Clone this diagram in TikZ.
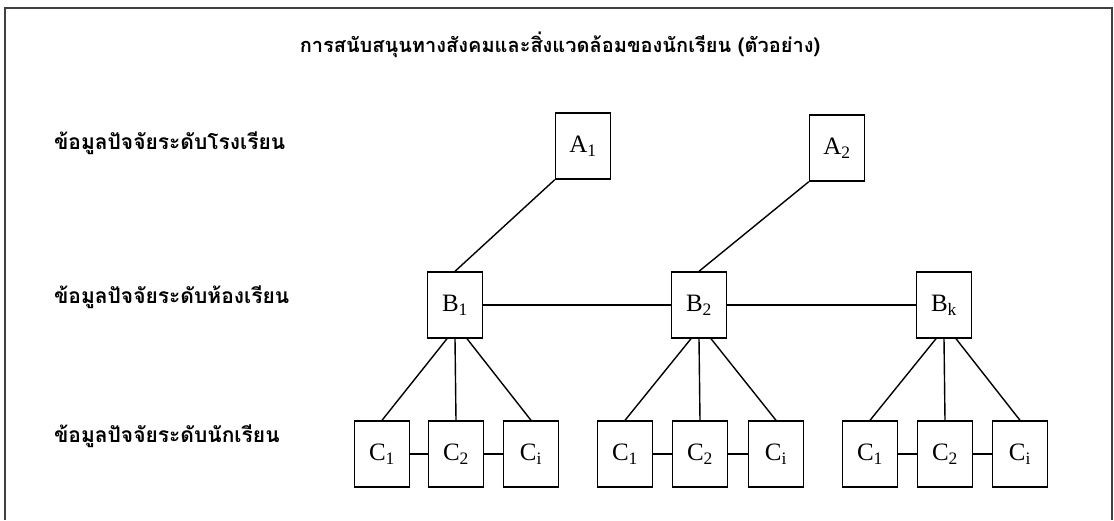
\documentclass[tikz,border=0pt]{standalone}
\usepackage{fontspec}
\setmainfont{Liberation Serif}
\newfontfamily\thaifont[Script=Thai]{Loma}

\begin{document}
\begin{tikzpicture}[x=1pt,y=-1pt,line width=1.4pt,
  box/.style={draw,minimum width=55pt,minimum height=66pt,inner sep=0pt,font=\fontsize{25}{27}\selectfont},
  lvl/.style={anchor=west,font=\thaifont\bfseries\fontsize{21}{24}\selectfont}]
  \useasboundingbox (0,0) rectangle (1114,520);
  \draw[line width=1.8pt,black!75] (5,520) -- (5,8) -- (1112,8) -- (1112,520);
  \node[font=\thaifont\bfseries\fontsize{20}{24}\selectfont] (title) at (560,45) {การสนับสนุนทางสังคมและสิ่งแวดล้อมของนักเรียน (ตัวอย่าง)};
  \node[lvl] (school) at (50,143) {ข้อมูลปัจจัยระดับโรงเรียน};
  \node[lvl] (room) at (50,297) {ข้อมูลปัจจัยระดับห้องเรียน};
  \node[lvl] (pupil) at (50,436) {ข้อมูลปัจจัยระดับนักเรียน};
  \node[box] (a1) at (583,146) {A\textsubscript{1}};
  \node[box] (a2) at (837,148) {A\textsubscript{2}};
  \node[box] (b1) at (455,305) {B\textsubscript{1}};
  \node[box] (b2) at (699,305) {B\textsubscript{2}};
  \node[box] (bk) at (944,305) {B\textsubscript{k}};
  \node[box] (c11) at (382,454) {C\textsubscript{1}};
  \node[box] (c12) at (456,454) {C\textsubscript{2}};
  \node[box] (c1i) at (531,454) {C\textsubscript{i}};
  \node[box] (c21) at (625,454) {C\textsubscript{1}};
  \node[box] (c22) at (700,454) {C\textsubscript{2}};
  \node[box] (c2i) at (776,454) {C\textsubscript{i}};
  \node[box] (c31) at (870,454) {C\textsubscript{1}};
  \node[box] (c32) at (945,454) {C\textsubscript{2}};
  \node[box] (c3i) at (1020,454) {C\textsubscript{i}};
  \path
  (a1.south west) edge (b1.north)
  (a2.south west) edge (b2.north)
  (b1) edge (b2)
  (b2) edge (bk)
  ([xshift=-8pt]b1.south) edge (c11.north)
  (b1.south) edge (c12.north)
  ([xshift=12pt]b1.south) edge (c1i.north)
  ([xshift=-8pt]b2.south) edge (c21.north)
  (b2.south) edge (c22.north)
  ([xshift=12pt]b2.south) edge (c2i.north)
  ([xshift=-8pt]bk.south) edge (c31.north)
  (bk.south) edge (c32.north)
  ([xshift=12pt]bk.south) edge (c3i.north)
  (c11) edge (c12) (c12) edge (c1i)
  (c21) edge (c22) (c22) edge (c2i)
  (c31) edge (c32) (c32) edge (c3i);
\end{tikzpicture}
\end{document}
